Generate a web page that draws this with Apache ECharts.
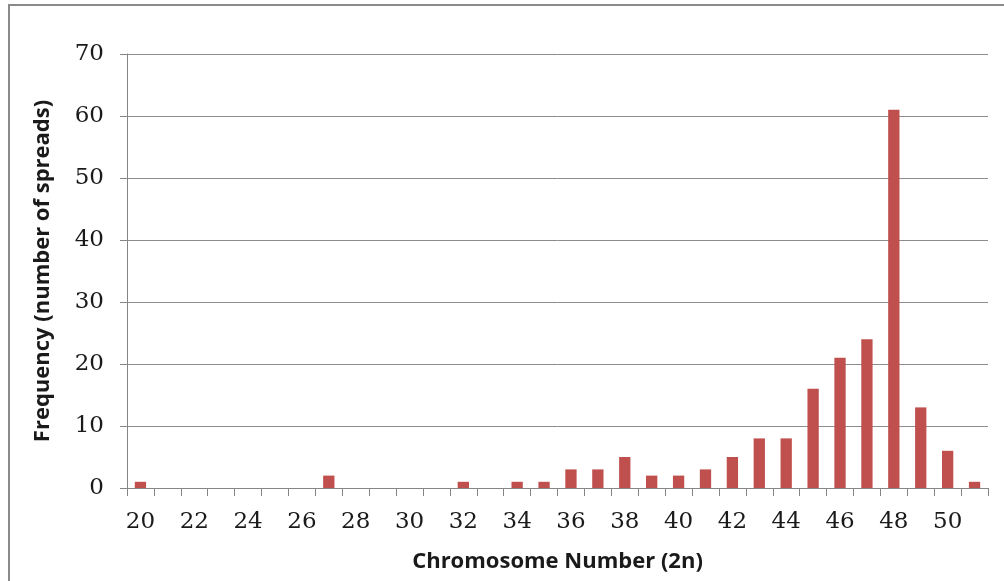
<!DOCTYPE html>
<html>
<head>
<meta charset="utf-8">
<script src="https://cdn.jsdelivr.net/npm/echarts@6/dist/echarts.min.js"></script>
<style>
html,body{margin:0;padding:0;background:#fff;}
#frame{position:absolute;left:0;top:0;width:1004px;height:581px;background:#fff;}
#border{position:absolute;left:8px;top:4px;width:1000px;height:600px;border-left:2px solid #8a8a8a;border-top:2px solid #8a8a8a;box-sizing:border-box;}
#chart{position:absolute;left:0;top:0;width:1004px;height:581px;}
</style>
</head>
<body>
<div id="frame"><div id="border"></div><div id="chart"></div></div>
<script>
const categories = ['20','21','22','23','24','25','26','27','28','29','30','31','32','33','34','35','36','37','38','39','40','41','42','43','44','45','46','47','48','49','50','51'];
const frequency = [1,0,0,0,0,0,0,2,0,0,0,0,1,0,1,1,3,3,5,2,2,3,5,8,8,16,21,24,61,13,6,1];
const yTicks = [0,10,20,30,40,50,60,70];

const chart = echarts.init(document.getElementById('chart'), null, {renderer:'canvas'});
chart.setOption({
  backgroundColor: 'transparent',
  animation: false,
  grid: {left: 127, right: 16, top: 54, bottom: 93, containLabel: false},
  xAxis: {
    type: 'category',
    data: categories,
    name: 'Chromosome Number (2n)',
    nameLocation: 'middle',
    nameGap: 63,
    nameTextStyle: {fontFamily: 'Open Sans', fontWeight: 'bold', fontSize: 22, color: '#1a1a1a'},
    axisLine: {lineStyle: {color: '#868686', width: 1}},
    axisTick: {show: true, interval: 0, length: 8, lineStyle: {color: '#868686'}},
    axisLabel: {interval: 1, margin: 23, fontFamily: 'DejaVu Serif', fontSize: 23, color: '#1a1a1a'},
    splitLine: {show: false}
  },
  yAxis: {
    type: 'value',
    min: yTicks[0],
    max: yTicks[yTicks.length - 1],
    interval: 10,
    name: 'Frequency (number of spreads)',
    nameLocation: 'middle',
    nameGap: 73,
    nameRotate: 90,
    nameTextStyle: {fontFamily: 'Open Sans', fontWeight: 'bold', fontSize: 22, color: '#1a1a1a'},
    axisLine: {show: true, lineStyle: {color: '#868686', width: 1}},
    axisTick: {show: true, length: 7, lineStyle: {color: '#868686'}},
    axisLabel: {margin: 23, fontFamily: 'DejaVu Serif', fontSize: 23, color: '#1a1a1a'},
    splitLine: {show: true, lineStyle: {color: '#8c8c8c', width: 1}}
  },
  series: [{
    type: 'bar',
    data: frequency,
    barWidth: '42%',
    itemStyle: {color: '#C0504D'}
  }]
});
</script>
</body>
</html>
